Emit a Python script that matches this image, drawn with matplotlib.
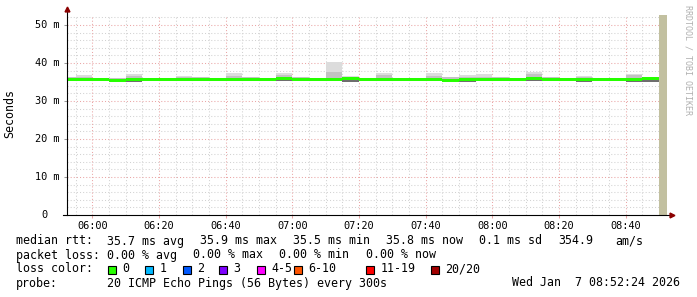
import matplotlib
matplotlib.use("Agg")
import matplotlib.pyplot as plt
from matplotlib.patches import Rectangle

W, H = 697, 297

# 5 minute bins, minutes relative to 06:00
bin_start = list(range(-10, 170, 5))
median = [35.7, 35.7, 35.6, 35.5, 35.7, 35.7, 35.6, 35.7, 35.7, 35.7, 35.7, 35.6,
          35.7, 35.8, 35.7, 35.7, 35.7, 35.8, 35.6, 35.7, 35.7, 35.7, 35.6, 35.5,
          35.6, 35.7, 35.7, 35.6, 35.8, 35.7, 35.7, 35.7, 35.7, 35.7, 35.7, 35.8]
smoke_max = [36.4, 36.8, 36.1, 36.1, 37.1, 36.0, 35.9, 36.7, 36.2, 36.0, 37.4, 36.2,
             36.0, 37.4, 36.2, 36.0, 40.3, 36.6, 36.0, 37.4, 36.1, 36.1, 37.4, 36.2,
             36.8, 37.1, 36.2, 36.0, 37.6, 36.2, 36.0, 36.6, 36.0, 35.9, 37.1, 36.2]
smoke_mid = [36.2, 36.3, 36.1, 36.1, 36.5, 36.0, 35.9, 36.3, 36.2, 36.0, 36.6, 36.2,
             36.0, 36.8, 36.2, 36.0, 37.7, 36.4, 36.0, 36.8, 36.1, 36.1, 36.7, 36.2,
             36.3, 36.4, 36.2, 36.0, 37.0, 36.2, 36.0, 36.4, 36.0, 35.9, 36.8, 36.2]
smoke_min = [35.2, 35.3, 35.2, 35.0, 35.1, 35.3, 35.3, 35.2, 35.3, 35.3, 35.3, 35.2,
             35.3, 35.3, 35.3, 35.3, 35.3, 35.1, 35.3, 35.3, 35.2, 35.3, 35.2, 35.1,
             35.0, 35.2, 35.3, 35.2, 35.3, 35.3, 35.3, 35.1, 35.3, 35.3, 35.1, 35.0]
unknown_start, unknown_end = 170, 172.4

x_ticks = [0, 20, 40, 60, 80, 100, 120, 140, 160]
x_labels = ["06:00", "06:20", "06:40", "07:00", "07:20", "07:40", "08:00", "08:20", "08:40"]
y_ticks = [0, 10, 20, 30, 40, 50]
y_labels = ["0", "10 m", "20 m", "30 m", "40 m", "50 m"]

loss_labels = ["0", "1", "2", "3", "4-5", "6-10", "11-19", "20/20"]
loss_colors = ["#26ff00", "#00b8ff", "#0059ff", "#7e00ff", "#ff00ff", "#ff5500", "#ff0000", "#a10000"]

mono = "DejaVu Sans Mono"
fig = plt.figure(figsize=(W / 100, H / 100), dpi=100)
ax = fig.add_axes([67 / W, (H - 215) / H, 600 / W, 200 / H])
ax.set_xlim(-7.6, 172.4)
ax.set_ylim(0, 52.63)

# grid
minor_x = [m for m in range(-5, 175, 5) if m % 20 != 0]
minor_y = [v for v in range(2, 53, 2) if v % 10 != 0]
for m in minor_x:
    ax.axvline(m, color="#d2d2d2", lw=0.75, ls=(0, (1, 2)), zorder=0)
for v in minor_y:
    ax.axhline(v, color="#d2d2d2", lw=0.75, ls=(0, (1, 2)), zorder=0)
for m in x_ticks:
    ax.axvline(m, color="#eaa6a6", lw=0.75, ls=(0, (1, 2)), zorder=0)
for v in y_ticks[1:]:
    ax.axhline(v, color="#eaa6a6", lw=0.75, ls=(0, (1, 2)), zorder=0)

# smoke
ax.bar(bin_start, [a - b for a, b in zip(smoke_max, smoke_min)], bottom=smoke_min,
       width=5, align="edge", color="#dcdcdc", lw=0, zorder=2)
ax.bar(bin_start, [a - b for a, b in zip(smoke_mid, smoke_min)], bottom=smoke_min,
       width=5, align="edge", color="#c2c2c2", lw=0, zorder=3)
ax.bar(bin_start, [a - b for a, b in zip(median, smoke_min)], bottom=smoke_min,
       width=5, align="edge", color="#6e6e6e", lw=0, zorder=4)
# median line
ax.bar(bin_start, 0.8, bottom=[m - 0.4 for m in median], width=5, align="edge",
       color="#26ff00", lw=0, zorder=5)
# unknown area
ax.bar(unknown_start, 52.63, width=unknown_end - unknown_start, align="edge",
       color="#c2c0a0", lw=0, zorder=6)

for s in ["top", "right", "left", "bottom"]:
    ax.spines[s].set_visible(False)
ax.plot([0, 0], [0, 1.025], transform=ax.transAxes, color="black", lw=0.8, clip_on=False, zorder=10)
ax.plot([-0.006, 1.005], [0, 0], transform=ax.transAxes, color="black", lw=0.8, clip_on=False, zorder=10)
ax.plot([0], [1.03], transform=ax.transAxes, marker="^", ms=3.5, color="#8b0000", clip_on=False, zorder=11)
ax.plot([1.008], [0], transform=ax.transAxes, marker=">", ms=3.5, color="#8b0000", clip_on=False, zorder=11)

ax.set_xticks(x_ticks)
ax.set_xticklabels(x_labels, family=mono, fontsize=7.4)
ax.set_yticks(y_ticks)
ax.set_yticklabels([])
ax.tick_params(axis="x", length=2, width=0.75, color="#eaa6a6", pad=2.5)
ax.tick_params(axis="y", length=2.5, width=0.75, color="#999999", pad=0)

for v, lab in zip(y_ticks, y_labels):
    xpx = 47.5 if lab == "0" else 59.5
    ax.text((xpx - 67) / 600, v, lab, transform=ax.get_yaxis_transform(),
            ha="right", va="center", family=mono, fontsize=7.4)

fig.text(10 / W, 1 - 114 / H, "Seconds", rotation=90, ha="center", va="center",
         family=mono, fontsize=8.4)
fig.text(688 / W, 1 - 5 / H, "RRDTOOL / TOBI OETIKER", rotation=270, ha="center", va="top",
         family=mono, fontsize=6.0, color="#b0b0b0")


def put(xpx, ypx, s, **kw):
    fig.text(xpx / W, 1 - ypx / H, s, family=mono, fontsize=8.4, va="center", **kw)


row1 = [(16, "median rtt:"), (107, "35.7 ms avg"), (200, "35.9 ms max"), (293, "35.5 ms min"),
        (386, "35.8 ms now"), (479, "0.1 ms sd"), (558, "354.9"), (615, "am/s")]
row2 = [(16, "packet loss:"), (107, "0.00 % avg"), (193, "0.00 % max"), (279, "0.00 % min"),
        (366, "0.00 % now")]
for xp, s in row1:
    put(xp, 241, s)
for xp, s in row2:
    put(xp, 255, s)

put(16, 269, "loss color:")
sq_x = [108, 145, 183, 219, 257, 294, 366, 431]
for xp, lab, col in zip(sq_x, loss_labels, loss_colors):
    fig.patches.append(Rectangle((xp / W, 1 - 273.5 / H), 8 / W, 8 / H, transform=fig.transFigure,
                                 facecolor=col, edgecolor="black", lw=0.8))
    put(xp + 14.5, 269, lab)

put(16, 283, "probe:")
put(107, 283, "20 ICMP Echo Pings (56 Bytes) every 300s")
put(680, 283, "Wed Jan  7 08:52:24 2026", ha="right")

fig.savefig("out.png", dpi=100)
